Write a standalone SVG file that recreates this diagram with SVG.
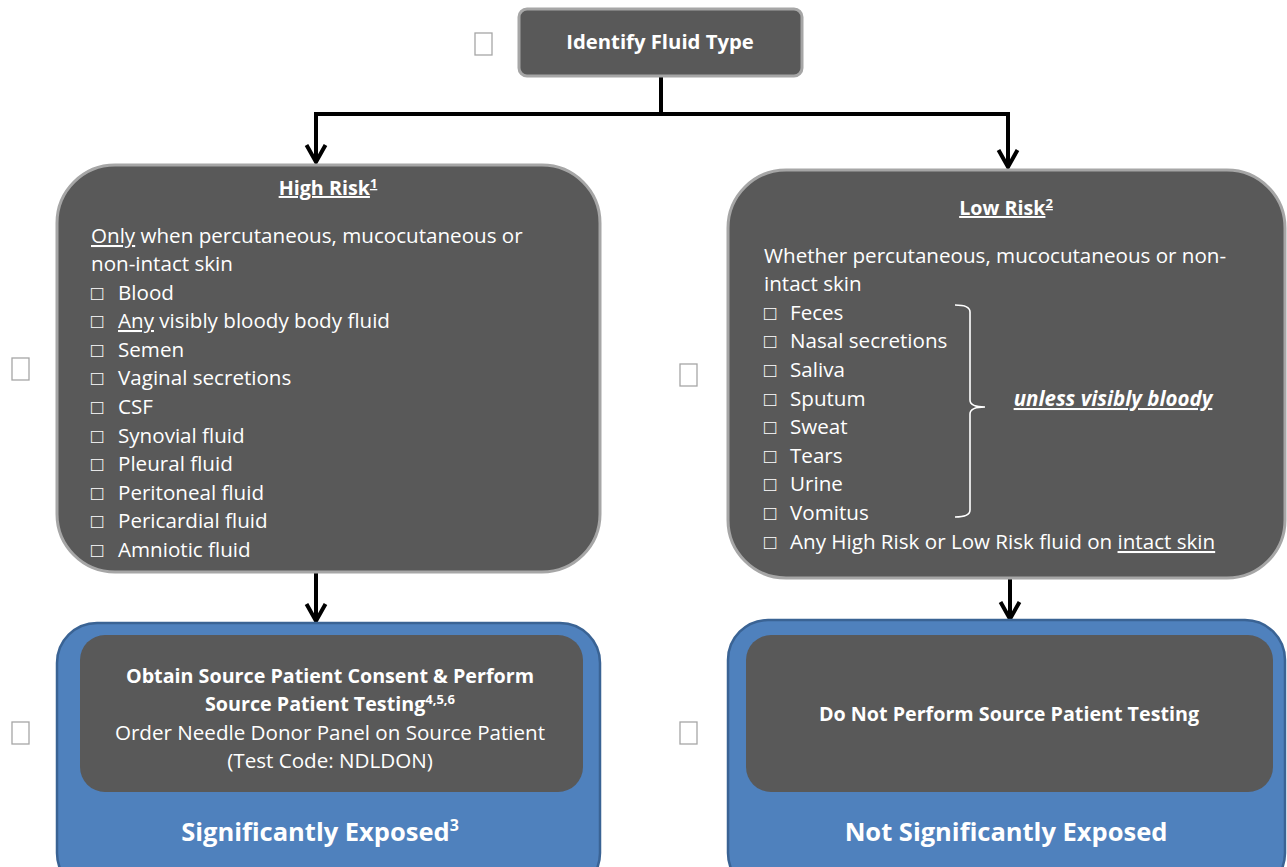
<svg xmlns="http://www.w3.org/2000/svg" width="1287" height="867" viewBox="0 0 1287 867">
<style>
.box{fill:#595959;stroke:#a6a6a6;stroke-width:3}
.inner{fill:#595959;stroke:none}
.outer{fill:#4f81bd;stroke:#3a6394;stroke-width:2.5}
.chk{fill:#ffffff;stroke:#a6a6a6;stroke-width:1.3}
.t{font-family:"Open Sans","Liberation Sans",sans-serif;fill:#ffffff;font-size:20.6px}
.b{font-weight:bold;font-size:19.7px}
.big{font-size:25.5px}
.c{text-anchor:middle}
.u{text-decoration:underline}
.conn{fill:none;stroke:#000000;stroke-width:4}
</style>
<defs>
<marker id="arr" markerWidth="22" markerHeight="24" refX="19" refY="12" orient="auto" markerUnits="userSpaceOnUse" viewBox="0 0 22 24" overflow="visible">
<path d="M2,2.5 L19,12 L2,21.5" fill="none" stroke="#000" stroke-width="4" stroke-linejoin="miter" stroke-miterlimit="3"/>
</marker>
</defs>
<rect width="1287" height="867" fill="#ffffff"/>

<g id="checkboxes">
<rect class="chk" x="475" y="33" width="17" height="22"/>
<rect class="chk" x="12" y="358" width="17" height="22"/>
<rect class="chk" x="12" y="722" width="17" height="22"/>
<rect class="chk" x="680" y="364" width="17" height="22"/>
<rect class="chk" x="680" y="722" width="17" height="22"/>
</g>

<g id="connectors">
<polyline class="conn" points="661,77 661,114"/>
<polyline class="conn" points="314,114 1010,114"/>
<line class="conn" x1="316" y1="114" x2="316" y2="162" marker-end="url(#arr)"/>
<line class="conn" x1="1008" y1="114" x2="1008" y2="167" marker-end="url(#arr)"/>
<line class="conn" x1="316" y1="572" x2="316" y2="621" marker-end="url(#arr)"/>
<line class="conn" x1="1010" y1="578" x2="1010" y2="619" marker-end="url(#arr)"/>
</g>

<g id="identify">
<rect class="box" x="519" y="9" width="283" height="67" rx="8"/>
<text class="t b c" x="660" y="49" style="font-size:20.3px">Identify Fluid Type</text>
</g>

<g id="high-risk">
<rect class="box" x="57" y="165" width="543" height="407" rx="58"/>
<text class="t b c" x="328" y="195"><tspan class="u">High Risk<tspan font-size="13" dy="-7">1</tspan></tspan></text>
<text class="t" x="91" y="243"><tspan class="u">Only</tspan> when percutaneous, mucocutaneous or</text>
<text class="t" x="91" y="271">non-intact skin</text>
<text class="t" x="91" y="300">□</text><text class="t" x="118" y="300">Blood</text>
<text class="t" x="91" y="328">□</text><text class="t" x="118" y="328"><tspan class="u">Any</tspan> visibly bloody body fluid</text>
<text class="t" x="91" y="357">□</text><text class="t" x="118" y="357">Semen</text>
<text class="t" x="91" y="385">□</text><text class="t" x="118" y="385">Vaginal secretions</text>
<text class="t" x="91" y="414">□</text><text class="t" x="118" y="414">CSF</text>
<text class="t" x="91" y="443">□</text><text class="t" x="118" y="443">Synovial fluid</text>
<text class="t" x="91" y="471">□</text><text class="t" x="118" y="471">Pleural fluid</text>
<text class="t" x="91" y="500">□</text><text class="t" x="118" y="500">Peritoneal fluid</text>
<text class="t" x="91" y="528">□</text><text class="t" x="118" y="528">Pericardial fluid</text>
<text class="t" x="91" y="557">□</text><text class="t" x="118" y="557">Amniotic fluid</text>
</g>

<g id="low-risk">
<rect class="box" x="728" y="170" width="557" height="408" rx="58"/>
<text class="t b c" x="1006" y="215"><tspan class="u">Low Risk<tspan font-size="13" dy="-7">2</tspan></tspan></text>
<text class="t" x="764" y="263">Whether percutaneous, mucocutaneous or non-</text>
<text class="t" x="764" y="291">intact skin</text>
<text class="t" x="764" y="320">□</text><text class="t" x="790" y="320">Feces</text>
<text class="t" x="764" y="348">□</text><text class="t" x="790" y="348">Nasal secretions</text>
<text class="t" x="764" y="377">□</text><text class="t" x="790" y="377">Saliva</text>
<text class="t" x="764" y="406">□</text><text class="t" x="790" y="406">Sputum</text>
<text class="t" x="764" y="434">□</text><text class="t" x="790" y="434">Sweat</text>
<text class="t" x="764" y="463">□</text><text class="t" x="790" y="463">Tears</text>
<text class="t" x="764" y="491">□</text><text class="t" x="790" y="491">Urine</text>
<text class="t" x="764" y="520">□</text><text class="t" x="790" y="520">Vomitus</text>
<text class="t" x="764" y="549">□</text><text class="t" x="790" y="549">Any High Risk or Low Risk fluid on <tspan class="u">intact skin</tspan></text>
<path d="M955,305 Q970,305 970,312 L970,400 Q970,407 985,407 Q970,407 970,414 L970,510 Q970,517 955,517" fill="none" stroke="#ffffff" stroke-width="1.6"/>
<text class="t b u" x="1113" y="406" style="font-size:20.5px;font-style:italic" text-anchor="middle">unless visibly bloody</text>
</g>

<g id="significantly-exposed">
<rect class="outer" x="57" y="623" width="543" height="270" rx="40"/>
<rect class="inner" x="80" y="635" width="503" height="157" rx="25"/>
<text class="t b c" x="330" y="683">Obtain Source Patient Consent &amp; Perform</text>
<text class="t b c" x="330" y="711">Source Patient Testing<tspan font-size="13" dy="-7">4,5,6</tspan></text>
<text class="t c" x="330" y="740">Order Needle Donor Panel on Source Patient</text>
<text class="t c" x="330" y="768">(Test Code: NDLDON)</text>
<text class="t b c big" x="320" y="841">Significantly Exposed<tspan font-size="16" dy="-10">3</tspan></text>
</g>

<g id="not-significantly-exposed">
<rect class="outer" x="728" y="620" width="557" height="273" rx="40"/>
<rect class="inner" x="746" y="635" width="527" height="157" rx="25"/>
<text class="t b c" x="1009" y="721">Do Not Perform Source Patient Testing</text>
<text class="t b c big" x="1006" y="841">Not Significantly Exposed</text>
</g>
</svg>
